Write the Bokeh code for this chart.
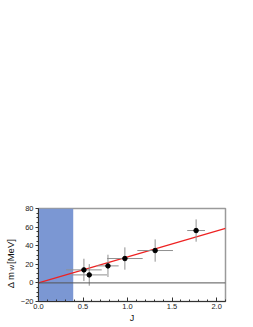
import math
from bokeh.plotting import figure
from bokeh.models import (Range1d, SingleIntervalTicker, NumeralTickFormatter,
                          BoxAnnotation, Span, Label, ColumnDataSource)
from bokeh.embed import file_html
from bokeh.resources import INLINE

# data
J_vals = [0.51, 0.57, 0.78, 0.97, 1.31, 1.77]
dm_vals = [14.0, 8.6, 18.3, 26.2, 34.8, 56.3]
J_err = [0.20, 0.20, 0.12, 0.20, 0.20, 0.10]
dm_err = [12.0, 11.6, 12.0, 12.0, 12.0, 12.0]
fit_x = [0.0, 2.1]
fit_y = [0.0, 58.6]
excluded_J = [0.0, 0.39]

FONT = "Liberation Sans"

p = figure(width=253, height=327, output_backend="svg", toolbar_location=None,
           x_range=Range1d(0, 2.1), y_range=Range1d(-20, 80),
           min_border_top=208, min_border_left=38, min_border_right=28,
           min_border_bottom=26)
p.grid.visible = False
p.outline_line_color = "#9a9a9a"
p.outline_line_width = 1.5
p.background_fill_color = "white"
p.border_fill_color = "white"

# excluded band
p.add_layout(BoxAnnotation(left=excluded_J[0], right=excluded_J[1],
                           fill_color="#7b97d3", fill_alpha=1.0, line_color=None,
                           level="underlay"))
p.add_layout(Span(location=0, dimension="width", line_color="#555555", line_width=1))

# fit line
p.line(fit_x, fit_y, line_color="#ee2222", line_width=1.2)

src = ColumnDataSource(dict(
    x=J_vals, y=dm_vals,
    x0=[a - b for a, b in zip(J_vals, J_err)], x1=[a + b for a, b in zip(J_vals, J_err)],
    y0=[a - b for a, b in zip(dm_vals, dm_err)], y1=[a + b for a, b in zip(dm_vals, dm_err)],
))
p.segment(x0="x0", x1="x1", y0="y", y1="y", source=src, line_color="#8f8f8f", line_width=1)
p.segment(x0="x", x1="x", y0="y0", y1="y1", source=src, line_color="#8f8f8f", line_width=1)
p.scatter("x", "y", source=src, size=4.5, color="black")

# axes
xa = p.xaxis[0]
xa.ticker = SingleIntervalTicker(interval=0.5, num_minor_ticks=5)
xa.formatter = NumeralTickFormatter(format="0.0")
xa.major_tick_in = 4
xa.major_tick_out = 0
xa.minor_tick_in = 2
xa.minor_tick_out = 0
xa.axis_label = "J"
xa.axis_label_text_font = FONT
xa.axis_label_text_font_style = "normal"
xa.axis_label_text_font_size = "9px"
xa.axis_label_text_color = "#111111"
xa.axis_label_standoff = 1
xa.major_label_standoff = 2

ya = p.yaxis[0]
ya.ticker = SingleIntervalTicker(interval=20, num_minor_ticks=4)
ya.major_tick_in = 0
ya.major_tick_out = 3
ya.minor_tick_in = 0
ya.minor_tick_out = 2
ya.major_label_standoff = 2

for ax in (xa, ya):
    ax.major_label_text_font = FONT
    ax.major_label_text_font_size = "7.5px"
    ax.major_label_text_color = "#222222"
    ax.axis_line_color = "#333333"
    ax.major_tick_line_color = "#333333"
    ax.minor_tick_line_color = "#333333"

# y-axis label with subscript; placed in the (large, empty) top panel so that it
# is not clipped by the frame, positioned through the plot's data scales
lx = -0.315
ly = 12.3
common = dict(x=lx, y=ly, angle=math.pi / 2,
              text_font=FONT, text_color="#111111", text_baseline="alphabetic")
labels = [
    Label(text="Δ m", text_align="right", text_font_size="9.5px", **common),
    Label(text="W", text_align="left", text_font_size="6px", x_offset=2, y_offset=1, **common),
    Label(text="[MeV]", text_align="left", text_font_size="9.5px", y_offset=7.5, **common),
]
for lab in labels:
    p.add_layout(lab, "above")

open("out.html", "w").write(file_html(p, INLINE))
